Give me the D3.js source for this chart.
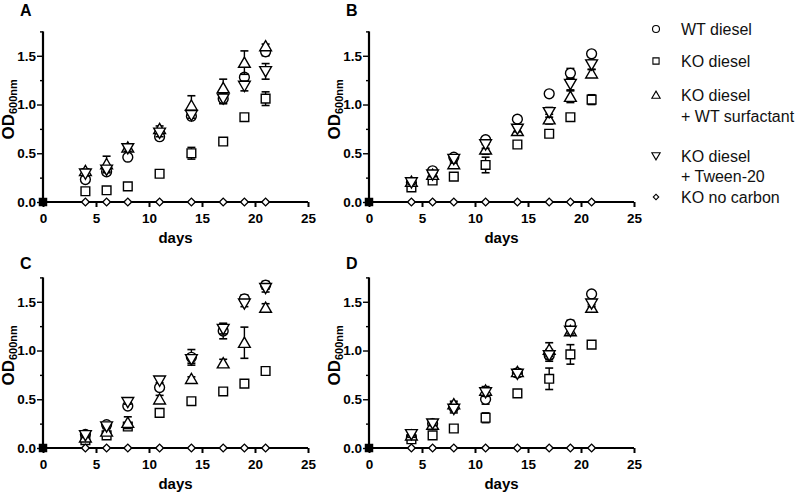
<!DOCTYPE html>
<html><head><meta charset="utf-8">
<script src="https://cdn.jsdelivr.net/npm/d3@7"></script>
<style>body{margin:0;background:#fff}svg{display:block}text{font-family:"Liberation Sans",Arial,sans-serif}</style>
</head><body>
<svg id="c" width="800" height="496"></svg>
<script>
const days = [4, 6, 8, 11, 14, 17, 19, 21];
const seriesNames = ["WT diesel", "KO diesel", "KO diesel\n+ WT surfactant", "KO diesel\n+ Tween-20", "KO no carbon"];
const xTicks = [0, 5, 10, 15, 20, 25];
const yTicks = [0, 0.5, 1.0, 1.5];
const yMinorTicks = [0.25, 0.75, 1.25, 1.75];
const panelLabels = ["A", "B", "C", "D"];

// Panel A
const A_wt   = [0.23, 0.31, 0.46, 0.67, 0.88, 1.06, 1.28, 1.54];
const A_ko   = [0.11, 0.12, 0.16, 0.29, 0.50, 0.62, 0.87, 1.06];
const A_tri  = [0.32, 0.39, 0.56, 0.75, 0.99, 1.17, 1.43, 1.60];
const A_inv  = [0.29, 0.33, 0.55, 0.71, 0.89, 1.06, 1.19, 1.34];
const A_none = [0, 0, 0, 0, 0, 0, 0, 0];
const A_wt_sd  = [0.03, 0.03, 0.02, 0.03, 0.03, 0.05, 0.03, 0.04];
const A_ko_sd  = [0.01, 0.01, 0.01, 0.01, 0.06, 0.02, 0.03, 0.07];
const A_tri_sd = [0.02, 0.08, 0.03, 0.03, 0.10, 0.09, 0.12, 0.02];
const A_inv_sd = [0.02, 0.03, 0.03, 0.04, 0.03, 0.05, 0.05, 0.08];

// Panel B
const B_wt   = [0.20, 0.32, 0.46, 0.64, 0.85, 1.11, 1.32, 1.52];
const B_ko   = [0.15, 0.22, 0.26, 0.38, 0.59, 0.70, 0.87, 1.05];
const B_tri  = [0.21, 0.28, 0.39, 0.54, 0.73, 0.85, 1.08, 1.32];
const B_inv  = [0.20, 0.28, 0.44, 0.59, 0.75, 0.92, 1.21, 1.41];
const B_none = [0, 0, 0, 0, 0, 0, 0, 0];
const B_wt_sd  = [0.02, 0.02, 0.02, 0.03, 0.03, 0.03, 0.05, 0.03];
const B_ko_sd  = [0.02, 0.02, 0.03, 0.08, 0.02, 0.02, 0.02, 0.05];
const B_tri_sd = [0.02, 0.02, 0.03, 0.05, 0.03, 0.05, 0.06, 0.04];
const B_inv_sd = [0.02, 0.02, 0.04, 0.04, 0.03, 0.05, 0.06, 0.05];

// Panel C
const C_wt   = [0.14, 0.24, 0.43, 0.62, 0.93, 1.20, 1.53, 1.67];
const C_ko   = [0.08, 0.13, 0.22, 0.36, 0.48, 0.58, 0.66, 0.79];
const C_tri  = [0.11, 0.17, 0.26, 0.50, 0.71, 0.87, 1.08, 1.44];
const C_inv  = [0.13, 0.22, 0.47, 0.69, 0.91, 1.22, 1.48, 1.64];
const C_none = [0, 0, 0, 0, 0, 0, 0, 0];
const C_wt_sd  = [0.02, 0.02, 0.02, 0.03, 0.08, 0.08, 0.04, 0.04];
const C_ko_sd  = [0.01, 0.01, 0.02, 0.01, 0.01, 0.01, 0.01, 0.01];
const C_tri_sd = [0.02, 0.03, 0.06, 0.04, 0.02, 0.04, 0.16, 0.04];
const C_inv_sd = [0.02, 0.02, 0.02, 0.02, 0.04, 0.05, 0.03, 0.04];

// Panel D
const D_wt   = [0.11, 0.25, 0.42, 0.50, 0.77, 0.95, 1.27, 1.58];
const D_ko   = [0.09, 0.13, 0.20, 0.31, 0.56, 0.71, 0.96, 1.06];
const D_tri  = [0.13, 0.24, 0.45, 0.59, 0.78, 1.01, 1.20, 1.44];
const D_inv  = [0.14, 0.25, 0.40, 0.57, 0.76, 0.95, 1.20, 1.48];
const D_none = [0, 0, 0, 0, 0, 0, 0, 0];
const D_wt_sd  = [0.02, 0.02, 0.04, 0.05, 0.02, 0.06, 0.04, 0.02];
const D_ko_sd  = [0.01, 0.01, 0.01, 0.05, 0.03, 0.11, 0.10, 0.02];
const D_tri_sd = [0.03, 0.02, 0.03, 0.04, 0.03, 0.07, 0.04, 0.03];
const D_inv_sd = [0.03, 0.02, 0.04, 0.04, 0.03, 0.04, 0.03, 0.03];

const panelData = [
  {vals: [A_wt, A_ko, A_tri, A_inv, A_none], sds: [A_wt_sd, A_ko_sd, A_tri_sd, A_inv_sd, null]},
  {vals: [B_wt, B_ko, B_tri, B_inv, B_none], sds: [B_wt_sd, B_ko_sd, B_tri_sd, B_inv_sd, null]},
  {vals: [C_wt, C_ko, C_tri, C_inv, C_none], sds: [C_wt_sd, C_ko_sd, C_tri_sd, C_inv_sd, null]},
  {vals: [D_wt, D_ko, D_tri, D_inv, D_none], sds: [D_wt_sd, D_ko_sd, D_tri_sd, D_inv_sd, null]}
];

const layout = [
  {x0: 43, y0: 202}, {x0: 369, y0: 202}, {x0: 43, y0: 448}, {x0: 369, y0: 448}
];
const W = 265, H = 170.6;

const symTypes = [d3.symbolCircle, d3.symbolSquare, d3.symbolTriangle, d3.symbolTriangle, d3.symbolSquare];
const symSizes = [76, 76, 60, 60, 30];
const symRot = [0, 0, 0, 180, 45];
const symOffsetY = [0, 0, 1.3, -1.3, 0];

const svg = d3.select("#c");

layout.forEach((L, pi) => {
  const g = svg.append("g").attr("transform", `translate(${L.x0},${L.y0 - H})`);
  const x = d3.scaleLinear().domain([0, 25]).range([0, W]);
  const y = d3.scaleLinear().domain([0, 1.75]).range([H, 0]);

  // y axis
  const yAx = g.append("g").call(d3.axisLeft(y).tickValues(yTicks).tickFormat(d3.format(".1f")).tickSize(6).tickPadding(1));
  yAx.select(".domain").remove();
  yAx.selectAll("line").attr("stroke", "#000").attr("stroke-width", 1.4);
  yAx.selectAll("text").attr("font-size", 13.5).attr("font-weight", "bold").attr("fill", "#000");
  const yMin = g.append("g").call(d3.axisLeft(y).tickValues(yMinorTicks).tickFormat("").tickSize(3));
  yMin.select(".domain").remove();
  yMin.selectAll("line").attr("stroke", "#000").attr("stroke-width", 1.4);
  g.append("line").attr("x1", 0).attr("x2", 0).attr("y1", y(1.75)).attr("y2", y(0))
    .attr("stroke", "#000").attr("stroke-width", 2.2);

  // x axis
  const xAx = g.append("g").attr("transform", `translate(0,${H})`)
    .call(d3.axisBottom(x).tickValues(xTicks).tickSize(5).tickPadding(6));
  xAx.select(".domain").remove();
  xAx.selectAll("line").attr("stroke", "#000").attr("stroke-width", 2);
  xAx.selectAll("text").attr("font-size", 13.5).attr("font-weight", "bold").attr("fill", "#000");
  g.append("line").attr("x1", 0).attr("x2", x(25)).attr("y1", H).attr("y2", H)
    .attr("stroke", "#000").attr("stroke-width", 2.2);

  // labels
  g.append("text").attr("x", x(12.5)).attr("y", H + 41).attr("text-anchor", "middle")
    .attr("font-size", 15).attr("font-weight", "bold").text("days");
  const od = g.append("text").attr("transform", `translate(-29.5,${y(0.95)}) rotate(-90)`)
    .attr("text-anchor", "middle").attr("font-size", 17).attr("font-weight", "bold");
  od.append("tspan").text("OD");
  od.append("tspan").attr("font-size", 11).attr("dy", 3).text("600nm");
  svg.append("text").attr("x", L.x0 - 23).attr("y", pi < 2 ? 16 : 269)
    .attr("font-size", 16).attr("font-weight", "bold").text(panelLabels[pi]);

  // data
  const P = panelData[pi];
  P.vals.forEach((vals, si) => {
    const sd = P.sds[si];
    const sg = g.append("g");
    if (sd) {
      days.forEach((d, i) => {
        const cx = x(d), lo = y(vals[i] - sd[i]), hi = y(vals[i] + sd[i]);
        sg.append("line").attr("x1", cx).attr("x2", cx).attr("y1", lo).attr("y2", hi).attr("stroke", "#000").attr("stroke-width", 1.4);
        [lo, hi].forEach(yy => sg.append("line").attr("x1", cx - 4).attr("x2", cx + 4).attr("y1", yy).attr("y2", yy).attr("stroke", "#000").attr("stroke-width", 1.6));
      });
    }
    sg.selectAll("path.m").data(days.map((d, i) => [d, vals[i]])).join("path")
      .attr("d", d3.symbol().type(symTypes[si]).size(symSizes[si]))
      .attr("transform", d => `translate(${x(d[0])},${y(d[1]) + symOffsetY[si]}) rotate(${symRot[si]})`)
      .attr("fill", "#fff").attr("stroke", "#000").attr("stroke-width", 1.4);
  });
  // origin point (day 0, all series at 0)
  g.append("path").attr("d", d3.symbol().type(d3.symbolSquare).size(72)())
    .attr("transform", `translate(${x(0)},${y(0)})`).attr("fill", "#000");
});

// legend
const legY = [[35], [67], [101, 122], [162, 182], [203]];
const lg = svg.append("g");
seriesNames.forEach((name, si) => {
  const yy = legY[si][0] - 6;
  lg.append("path").attr("d", d3.symbol().type(symTypes[si]).size(symSizes[si] * 0.5)())
    .attr("transform", `translate(656,${yy + symOffsetY[si] * 0.7}) rotate(${symRot[si]})`)
    .attr("fill", "#fff").attr("stroke", "#000").attr("stroke-width", 1.1);
  name.split("\n").forEach((line, li) => {
    lg.append("text").attr("x", 681).attr("y", legY[si][li]).attr("font-size", 16).attr("fill", "#111").text(line);
  });
});
</script>
</body></html>
